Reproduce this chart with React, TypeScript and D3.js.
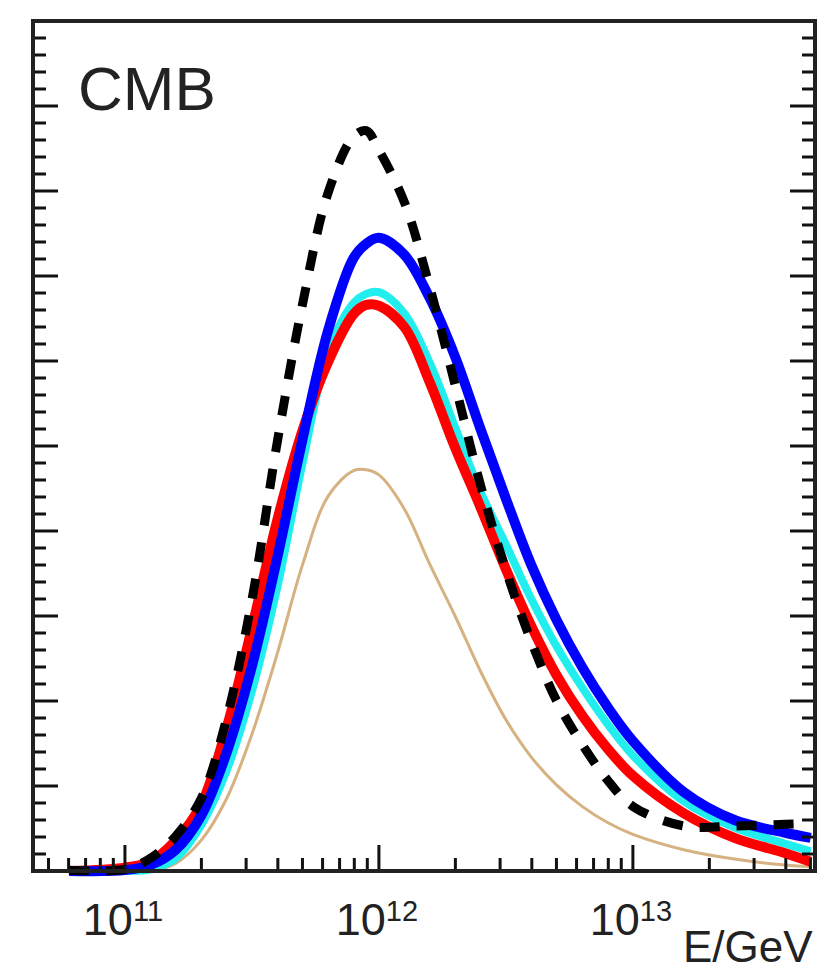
import React from 'react';
import * as d3 from 'd3';

// log10(E/GeV) sample points shared by all series
const log10E = [10.78, 11.0, 11.1, 11.2, 11.3, 11.4, 11.5, 11.6, 11.7, 11.8, 11.9, 11.95, 12.0, 12.1, 12.2, 12.3, 12.4, 12.5, 12.6, 12.7, 12.8, 12.9, 13.0, 13.2, 13.4, 13.6, 13.7];

const blackDashed = [0.01, 0.02, 0.15, 0.41, 0.85, 1.79, 3.19, 5.05, 6.68, 7.98, 8.64, 8.71, 8.48, 7.87, 6.87, 5.72, 4.54, 3.54, 2.7, 2.0, 1.49, 1.07, 0.76, 0.53, 0.53, 0.55, 0.56];
const blueSeries = [0.0, 0.01, 0.07, 0.25, 0.65, 1.39, 2.41, 3.69, 5.09, 6.36, 7.21, 7.38, 7.45, 7.25, 6.74, 6.05, 5.2, 4.38, 3.6, 2.95, 2.4, 1.93, 1.53, 0.93, 0.6, 0.45, 0.39];
const cyanSeries = [0.0, 0.0, 0.02, 0.15, 0.54, 1.18, 2.12, 3.34, 4.81, 6.1, 6.68, 6.79, 6.81, 6.56, 5.98, 5.22, 4.46, 3.84, 3.2, 2.64, 2.16, 1.73, 1.36, 0.82, 0.51, 0.32, 0.23];
const redSeries = [0.0, 0.04, 0.11, 0.36, 0.78, 1.68, 2.86, 4.13, 5.19, 5.99, 6.55, 6.66, 6.65, 6.4, 5.75, 4.98, 4.28, 3.55, 2.88, 2.3, 1.83, 1.44, 1.12, 0.68, 0.39, 0.21, 0.11];
const tanSeries = [0.0, 0.0, 0.0, 0.09, 0.36, 0.85, 1.61, 2.56, 3.61, 4.41, 4.71, 4.72, 4.66, 4.26, 3.61, 3.0, 2.35, 1.78, 1.34, 1.01, 0.76, 0.57, 0.43, 0.25, 0.14, 0.07, 0.05];

const xTickExponents = [11, 12, 13];
const xAxisLabel = 'E/GeV';
const panelLabel = 'CMB';

const FONT = '"Liberation Sans", Arial, Helvetica, sans-serif';

export default function App() {
  const W = 820, H = 978;
  const L = 33, R = 815, T = 21, B = 871;
  const x = d3.scaleLog().domain([Math.pow(10, 10.638), Math.pow(10, 13.717)]).range([L, R]);
  const y = d3.scaleLinear().domain([0, 10]).range([B, T]);

  const energies = log10E.map(v => Math.pow(10, v));
  const line = d3.line<[number, number]>()
    .x(d => x(d[0]))
    .y(d => Math.min(B, y(d[1])))
    .curve(d3.curveCatmullRom.alpha(0.5));
  const path = (vals: number[]) => line(energies.map((e, i) => [e, vals[i]] as [number, number])) || '';

  // y ticks
  const yMajor = d3.range(0, 11, 1);
  const yMinor = d3.range(0, 10.001, 0.2).filter(v => Math.abs(v - Math.round(v)) > 1e-6);

  // x ticks
  const [d0, d1] = x.domain();
  const xMinor: number[] = [];
  for (let n = 10; n <= 13; n++) {
    for (let k = 2; k <= 9; k++) {
      const v = k * Math.pow(10, n);
      if (v >= d0 && v <= d1) xMinor.push(v);
    }
  }
  const xMajor = xTickExponents.map(e => Math.pow(10, e));

  const tickColor = '#111';
  return (
    <svg width={W} height={H} style={{ position: 'absolute', left: 0, top: 0, background: '#fff' }}>
      <rect x={0} y={0} width={W} height={H} fill="#fff" />
      {/* curves */}
      <path d={path(tanSeries)} fill="none" stroke="#D6B181" strokeWidth={3} />
      <path d={path(cyanSeries)} fill="none" stroke="#22EEEE" strokeWidth={8} />
      <path d={path(redSeries)} fill="none" stroke="#FF0000" strokeWidth={10} />
      <path d={path(blueSeries)} fill="none" stroke="#0000FF" strokeWidth={10} />
      <path d={path(blackDashed)} fill="none" stroke="#000" strokeWidth={9} strokeDasharray="20 17" />

      {/* y ticks left and right */}
      {yMajor.map(v => (
        <g key={'ym' + v}>
          <line x1={L} x2={L + 25} y1={y(v)} y2={y(v)} stroke={tickColor} strokeWidth={3} />
          <line x1={R} x2={R - 25} y1={y(v)} y2={y(v)} stroke={tickColor} strokeWidth={3} />
        </g>
      ))}
      {yMinor.map(v => (
        <g key={'yn' + v.toFixed(2)}>
          <line x1={L} x2={L + 13} y1={y(v)} y2={y(v)} stroke={tickColor} strokeWidth={3} />
          <line x1={R} x2={R - 13} y1={y(v)} y2={y(v)} stroke={tickColor} strokeWidth={3} />
        </g>
      ))}
      {/* x ticks */}
      {xMajor.map(v => (
        <line key={'xm' + v} x1={x(v)} x2={x(v)} y1={B} y2={B - 26} stroke={tickColor} strokeWidth={3} />
      ))}
      {xMinor.map(v => (
        <line key={'xn' + v} x1={x(v)} x2={x(v)} y1={B} y2={B - 13} stroke={tickColor} strokeWidth={3} />
      ))}

      {/* frame */}
      <rect x={L} y={T} width={R - L} height={B - T} fill="none" stroke="#222" strokeWidth={4} />

      {/* x tick labels */}
      {xTickExponents.map(e => (
        <text key={'xl' + e} x={x(Math.pow(10, e)) - 2} y={935} textAnchor="middle" fontFamily={FONT} fontSize={45} fill="#222">
          10<tspan fontSize={29} dy={-14}>{e}</tspan>
        </text>
      ))}
      <text x={683} y={962} fontFamily={FONT} fontSize={44} fill="#222">{xAxisLabel}</text>
      <text x={78} y={110} fontFamily={FONT} fontSize={62} fill="#222">{panelLabel}</text>
    </svg>
  );
}
